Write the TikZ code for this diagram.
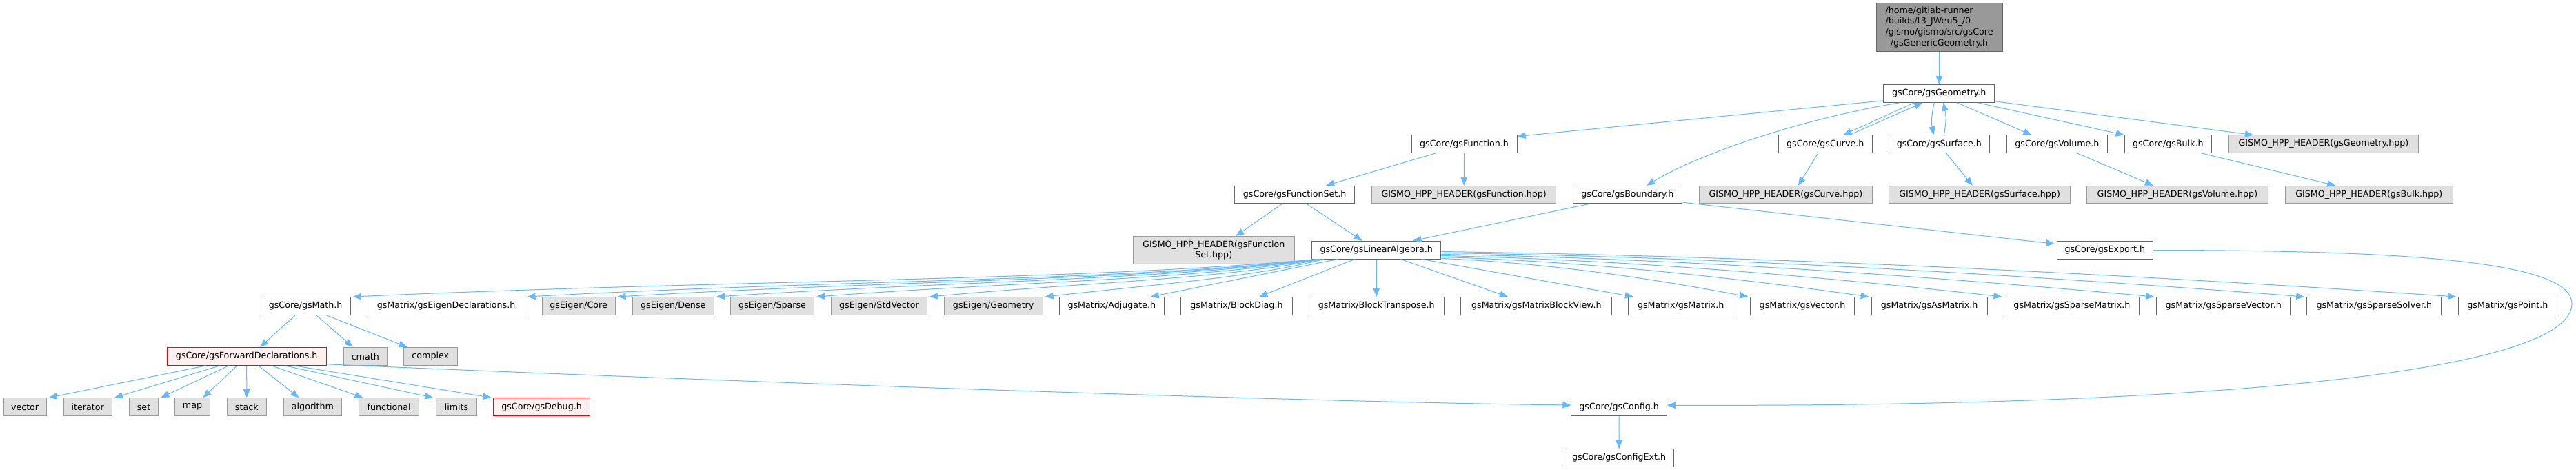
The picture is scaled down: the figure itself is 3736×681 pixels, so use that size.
\documentclass[tikz,border=0pt]{standalone}
\usepackage{fontspec}
\setmainfont{DejaVu Sans}
\usetikzlibrary{arrows.meta,calc}
\definecolor{edgeblue}{HTML}{63B8FF}
\definecolor{nodegray}{HTML}{E0E0E0}
\definecolor{bordgray}{HTML}{999999}
\definecolor{borddark}{HTML}{666666}
\definecolor{topfill}{HTML}{999999}
\definecolor{redfill}{HTML}{FFF0F0}
\tikzset{
 base/.style={rectangle, inner sep=0pt, line width=0.75pt, font=\fontsize{9.5}{11.8}\selectfont, align=center},
 wnode/.style={base, draw=borddark, fill=white},
 gnode/.style={base, draw=bordgray, fill=nodegray},
 rnode/.style={base, draw=red, fill=redfill},
 tnode/.style={base, draw=borddark, fill=topfill},
 edg/.style={draw=edgeblue, line width=0.75pt, -{Triangle[length=9pt,width=7pt]}},
}
\newcommand\dnode[7]{\node[#2, minimum width={(#4-#3)*0.75pt}, minimum height={(#6-#5)*0.75pt}] (#1) at ({(#3+#4)/2},{(#5+#6)/2}) {#7};}
\begin{document}
\begin{tikzpicture}[x=0.75pt,y=-0.75pt]
\fill[white] (0,0) rectangle (3736,681);
\useasboundingbox (0,0) rectangle (3736,681);
% row 1
\dnode{top}{tnode}{2721}{2904}{4.7}{74.7}{\begin{tabular}{@{}l@{}}/home/gitlab-runner\\/builds/t3\_JWeu5\_/0\\/gismo/gismo/src/gsCore\\\multicolumn{1}{@{}c@{}}{/gsGenericGeometry.h}\end{tabular}}
% row 2
\dnode{geo}{wnode}{2731.7}{2892.9}{122.7}{148.3}{gsCore/gsGeometry.h}
% row 3
\dnode{fun}{wnode}{2047}{2200}{196}{221.3}{gsCore/gsFunction.h}
\dnode{crv}{wnode}{2579.4}{2715.2}{196}{221.3}{gsCore/gsCurve.h}
\dnode{srf}{wnode}{2739.6}{2885}{196}{221.3}{gsCore/gsSurface.h}
\dnode{vol}{wnode}{2910}{3056.8}{196}{221.3}{gsCore/gsVolume.h}
\dnode{blk}{wnode}{3081.2}{3207.4}{196}{221.3}{gsCore/gsBulk.h}
\dnode{hgeo}{gnode}{3232.5}{3507.4}{196}{221.3}{GISMO\_HPP\_HEADER(gsGeometry.hpp)}
% row 4
\dnode{fset}{wnode}{1790.6}{1964.7}{269.3}{294.7}{gsCore/gsFunctionSet.h}
\dnode{hfun}{gnode}{1989.6}{2256.8}{269.3}{294.7}{GISMO\_HPP\_HEADER(gsFunction.hpp)}
\dnode{bnd}{wnode}{2281}{2439.8}{269.3}{294.7}{gsCore/gsBoundary.h}
\dnode{hcrv}{gnode}{2464.6}{2715.2}{269.3}{294.7}{GISMO\_HPP\_HEADER(gsCurve.hpp)}
\dnode{hsrf}{gnode}{2739.6}{3002.6}{269.3}{294.7}{GISMO\_HPP\_HEADER(gsSurface.hpp)}
\dnode{hvol}{gnode}{3026.4}{3289.4}{269.3}{294.7}{GISMO\_HPP\_HEADER(gsVolume.hpp)}
\dnode{hblk}{gnode}{3314.5}{3557}{269.3}{294.7}{GISMO\_HPP\_HEADER(gsBulk.hpp)}
% row 5
\dnode{hfset}{gnode}{1643}{1877.5}{342.5}{382.7}{GISMO\_HPP\_HEADER(gsFunction\\Set.hpp)}
\dnode{la}{wnode}{1902.5}{2089.9}{349.3}{375}{gsCore/gsLinearAlgebra.h}
\dnode{exp}{wnode}{2983.1}{3122.6}{349.7}{375.3}{gsCore/gsExport.h}
% row 6
\dnode{mth}{wnode}{378}{508.2}{430.5}{456}{gsCore/gsMath.h}
\dnode{edec}{wnode}{533}{761.1}{430.5}{456}{gsMatrix/gsEigenDeclarations.h}
\dnode{ecore}{gnode}{786}{892.1}{430.5}{456}{gsEigen/Core}
\dnode{edense}{gnode}{917}{1035.5}{430.5}{456}{gsEigen/Dense}
\dnode{esparse}{gnode}{1059.6}{1180.6}{430.5}{456}{gsEigen/Sparse}
\dnode{estd}{gnode}{1205.5}{1344.5}{430.5}{456}{gsEigen/StdVector}
\dnode{egeo}{gnode}{1369.4}{1512}{430.5}{456}{gsEigen/Geometry}
\dnode{adj}{wnode}{1536}{1688.6}{430.5}{456}{gsMatrix/Adjugate.h}
\dnode{bd}{wnode}{1712.6}{1874.3}{430.5}{456}{gsMatrix/BlockDiag.h}
\dnode{bt}{wnode}{1898.4}{2094}{430.5}{456}{gsMatrix/BlockTranspose.h}
\dnode{mbv}{wnode}{2118.9}{2337.8}{430.5}{456}{gsMatrix/gsMatrixBlockView.h}
\dnode{gmat}{wnode}{2361.8}{2513.6}{430.5}{456}{gsMatrix/gsMatrix.h}
\dnode{gvec}{wnode}{2538.6}{2689.5}{430.5}{456}{gsMatrix/gsVector.h}
\dnode{asm}{wnode}{2714.1}{2882.2}{430.5}{456}{gsMatrix/gsAsMatrix.h}
\dnode{smat}{wnode}{2906.8}{3102.9}{430.5}{456}{gsMatrix/gsSparseMatrix.h}
\dnode{svec}{wnode}{3127.5}{3321.9}{430.5}{456}{gsMatrix/gsSparseVector.h}
\dnode{ssol}{wnode}{3345.7}{3540.9}{430.5}{456}{gsMatrix/gsSparseSolver.h}
\dnode{gpt}{wnode}{3565.5}{3708.2}{430.5}{456}{gsMatrix/gsPoint.h}
% row 7
\dnode{fwd}{rnode}{242}{473.4}{503.3}{529.3}{gsCore/gsForwardDeclarations.h}
\dnode{cmath}{gnode}{498.3}{561.3}{503.3}{529.3}{cmath}
\dnode{cplx}{gnode}{585.3}{663.3}{503.3}{529.3}{complex}
% row 8
\dnode{nvec}{gnode}{5}{67.2}{576.7}{602.7}{vector}
\dnode{nitr}{gnode}{92}{162.5}{576.7}{602.7}{iterator}
\dnode{nset}{gnode}{187.4}{229.7}{576.7}{602.7}{set}
\dnode{nmap}{gnode}{253.7}{304.3}{576.7}{602.7}{map}
\dnode{nstk}{gnode}{329.2}{386.4}{576.7}{602.7}{stack}
\dnode{nalg}{gnode}{411.2}{495.8}{576.7}{602.7}{algorithm}
\dnode{nfnc}{gnode}{520.7}{607.7}{576.7}{602.7}{functional}
\dnode{nlim}{gnode}{632.6}{691.5}{576.7}{602.7}{limits}
\dnode{dbg}{rnode}{715.5}{855.6}{576.7}{602.7}{gsCore/gsDebug.h}
\dnode{cfg}{wnode}{2278.9}{2417.4}{576.7}{602.7}{gsCore/gsConfig.h}
% row 9
\dnode{cext}{wnode}{2268.9}{2427.3}{650.7}{676}{gsCore/gsConfigExt.h}

% edges from top / geometry
\draw[edg] (top.south) -- (geo.north);
\draw[edg] ($(geo.south west)+(0,-3)$) -- ($(fun.north east)+(0,2)$);
\draw[edg] ($(geo.south)+(-57,0)$) .. controls +(-135,22) and +(82,-49) .. ($(bnd.north)+(27.6,0)$);
\draw[edg] ($(geo.south)+(-36,0)$) -- ($(crv.north)+(26,0)$);
\draw[edg] ($(crv.north)+(35,0)$) -- ($(geo.south)+(-24,0)$);
\draw[edg] ($(geo.south)+(-7,0)$) to[bend right=12] ($(srf.north)+(-8,0)$);
\draw[edg] ($(srf.north)+(7,0)$) to[bend right=12] ($(geo.south)+(6,0)$);
\draw[edg] ($(geo.south)+(26,0)$) -- ($(vol.north)+(-37,0)$);
\draw[edg] ($(geo.south)+(56,0)$) -- (blk.north west);
\draw[edg] ($(geo.south east)+(0,-2)$) -- ($(hgeo.north)+(-102,0)$);
% row 3 -> row 4
\draw[edg] ($(fun.south)+(-41,0)$) -- ($(fset.north)+(45.5,0)$);
\draw[edg] (fun.south) -- (hfun.north);
\draw[edg] ($(crv.south)+(-10.5,0)$) -- ($(hcrv.north)+(18,0)$);
\draw[edg] ($(srf.south)+(10,0)$) -- ($(hsrf.north)+(-10.4,0)$);
\draw[edg] ($(vol.south)+(28.5,0)$) -- ($(hvol.north)+(-35,0)$);
\draw[edg] ($(blk.south)+(48,0)$) -- ($(hblk.north)+(-48.7,0)$);
% row 4 -> row 5
\draw[edg] ($(fset.south)+(-18,0)$) -- ($(hfset.north)+(32,0)$);
\draw[edg] ($(fset.south)+(17,0)$) -- ($(la.north)+(-20.7,0)$);
\draw[edg] ($(bnd.south)+(-54.5,0)$) -- ($(la.north)+(53.3,0)$);
\draw[edg] ($(bnd.south east)+(0,-2)$) -- ($(exp.north west)+(-3,4)$);
% gsLinearAlgebra -> left row 6
\draw[edg] ($(la.south west)+(8,0)$) .. controls +(-350,32) and +(560,-25) .. ($(mth.north east)+(3,0)$);
\draw[edg] ($(la.south west)+(9,0)$) .. controls +(-287,32) and +(459,-25) .. ($(edec.north east)+(3,0)$);
\draw[edg] ($(la.south west)+(10,0)$) .. controls +(-254,31) and +(407,-24) .. ($(ecore.north east)+(3,0)$);
\draw[edg] ($(la.south west)+(11,0)$) .. controls +(-219,30) and +(350,-23) .. ($(edense.north east)+(3,0)$);
\draw[edg] ($(la.south west)+(12,0)$) .. controls +(-183,30) and +(292,-22) .. ($(esparse.north east)+(3,0)$);
\draw[edg] ($(la.south west)+(14,0)$) .. controls +(-142,29) and +(228,-21) .. ($(estd.north east)+(3,0)$);
\draw[edg] ($(la.south west)+(18,0)$) .. controls +(-101,26) and +(162,-18) .. ($(egeo.north east)+(3,0)$);
\draw[edg] ($(la.south)+(-56,0)$) -- ($(adj.north)+(56.4,0)$);
\draw[edg] ($(la.south)+(-31.5,0)$) -- ($(bd.north)+(32.75,0)$);
\draw[edg] (la.south) -- (bt.north);
\draw[edg] ($(la.south)+(35,0)$) -- ($(mbv.north)+(-41.5,0)$);
\draw[edg] ($(la.south)+(66,0)$) -- ($(gmat.north west)+(7.5,0)$);
% gsLinearAlgebra -> right row 6
\draw[edg] ($(la.south east)+(0,-1)$) .. controls +(147,6) and +(-147,-28) .. ($(gvec.north west)+(-3,0)$);
\draw[edg] ($(la.south east)+(0,-3)$) .. controls +(205,6) and +(-205,-29) .. ($(asm.north west)+(-3,0)$);
\draw[edg] ($(la.south east)+(0,-5)$) .. controls +(269,6) and +(-269,-30) .. ($(smat.north west)+(-3,0)$);
\draw[edg] ($(la.south east)+(0,-7)$) .. controls +(341,6) and +(-341,-31) .. ($(svec.north west)+(-3,0)$);
\draw[edg] ($(la.south east)+(0,-9)$) .. controls +(413,6) and +(-413,-32) .. ($(ssol.north west)+(-3,0)$);
\draw[edg] ($(la.south east)+(0,-11)$) .. controls +(486,7) and +(-486,-33) .. ($(gpt.north west)+(-3,0)$);
% gsMath
\draw[edg] ($(mth.south)+(-14.5,0)$) -- ($(fwd.north)+(19.5,0)$);
\draw[edg] ($(mth.south)+(15.4,0)$) -- ($(cmath.north)+(-18.2,0)$);
\draw[edg] ($(mth.south)+(29.5,0)$) -- ($(cplx.north)+(-34,0)$);
% gsForwardDeclarations
\draw[edg] ($(fwd.south)+(-59,0)$) -- ($(nvec.north east)+(3,0)$);
\draw[edg] ($(fwd.south)+(-38.7,0)$) -- ($(nitr.north east)+(3,0)$);
\draw[edg] ($(fwd.south)+(-26,0)$) -- ($(nset.north east)+(3,0)$);
\draw[edg] ($(fwd.south)+(-13.7,0)$) -- ($(nmap.north)+(15.3,0)$);
\draw[edg] (fwd.south) -- (nstk.north);
\draw[edg] ($(fwd.south)+(17,0)$) -- ($(nalg.north)+(-20,0)$);
\draw[edg] ($(fwd.south)+(36,0)$) -- ($(nfnc.north)+(-37.7,0)$);
\draw[edg] ($(fwd.south)+(55,0)$) -- ($(nlim.north west)+(-4,0)$);
\draw[edg] ($(fwd.south)+(69,0)$) -- ($(dbg.north west)+(-2.5,0)$);
\draw[edg] ($(fwd.south east)+(0,-2)$) .. controls +(700,30) and +(-350,-4) .. ($(cfg.west)+(0,-2.7)$);
% gsExport -> gsConfig
\draw[edg] (exp.east) .. controls +(380,0) and (3730,380) .. (3730,440) .. controls (3730,540) and (3200,590) .. ($(cfg.east)+(0,-2.5)$);
% gsConfig -> gsConfigExt
\draw[edg] (cfg.south) -- (cext.north);
\end{tikzpicture}
\end{document}
